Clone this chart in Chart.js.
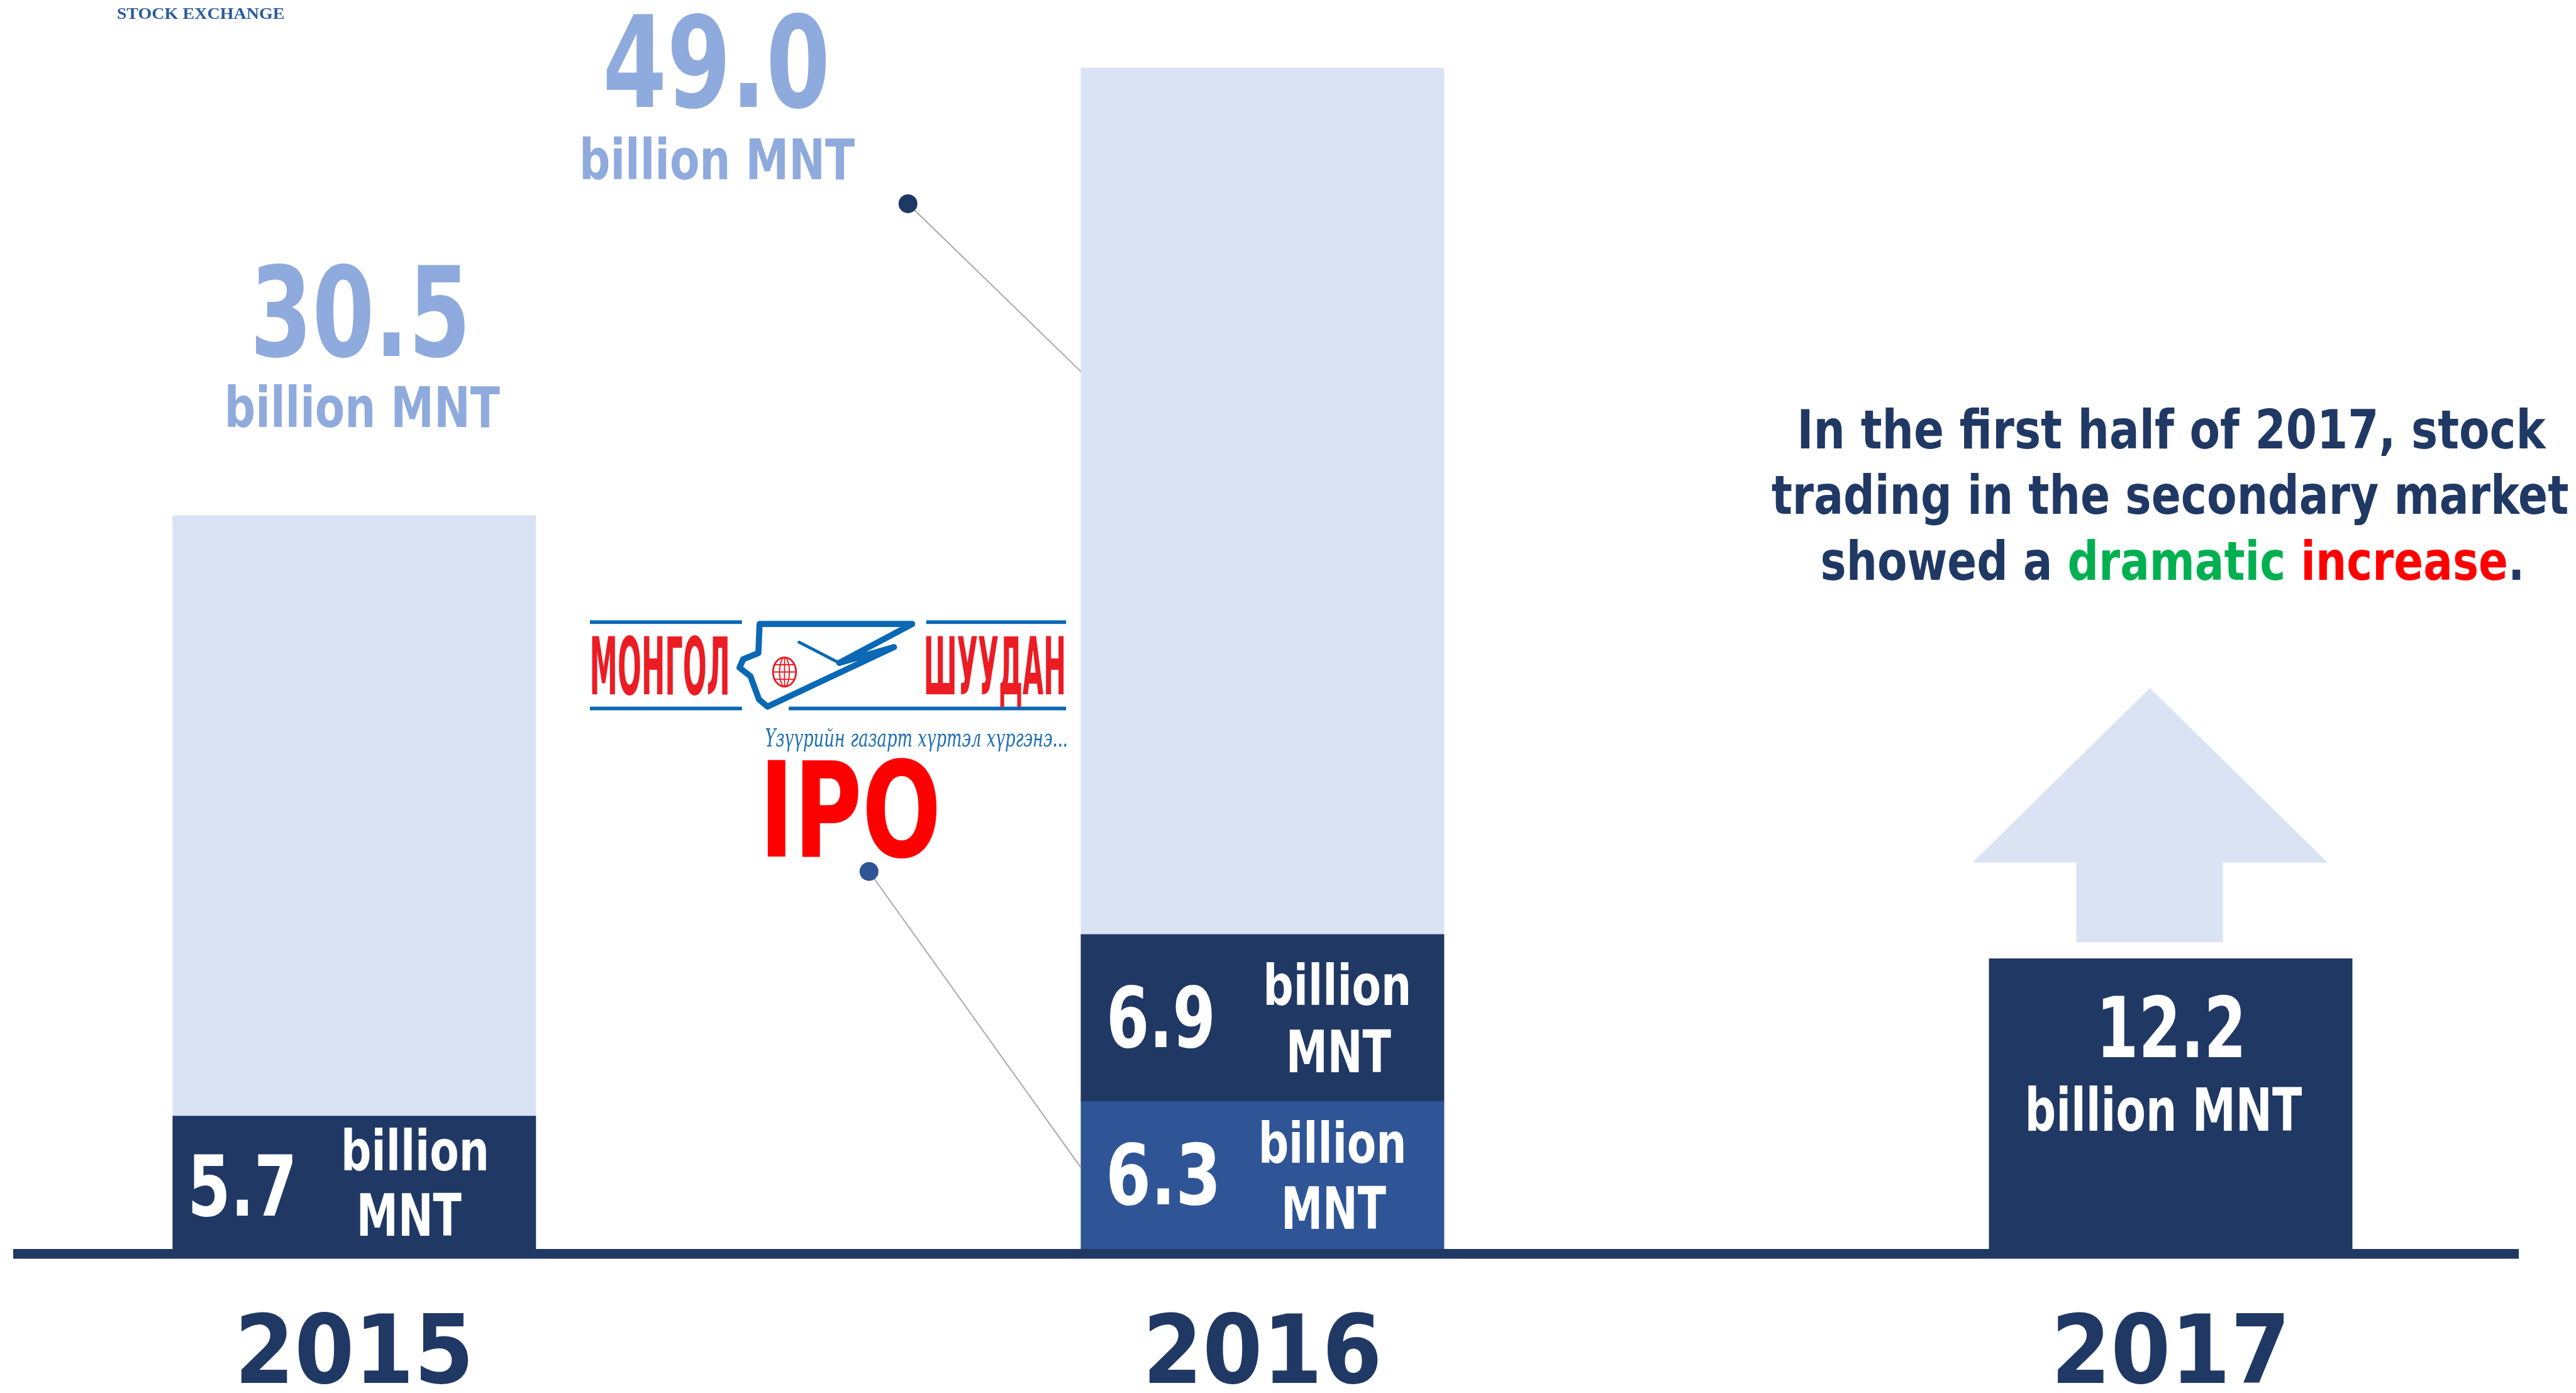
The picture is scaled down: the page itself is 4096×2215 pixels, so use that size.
<!DOCTYPE html>
<html>
<head>
<meta charset="utf-8">
<title>Stock trading 2015-2017</title>
<script src="https://cdn.jsdelivr.net/npm/chart.js@4.4.1/dist/chart.umd.min.js"></script>
<style>
  html, body { margin: 0; padding: 0; background: #fff; overflow: hidden; }
  #wrap { width: 4096px; height: 2215px; }
</style>
</head>
<body>
<div id="wrap"><canvas id="tradeChart" width="4096" height="2215"></canvas></div>
<script>
// --- DATA ---
const years = [2015, 2016, 2017];
const yearLabels = ['2015', '2016', '2017'];
const ipoValues = [null, 6.3, null];        // primary market (IPO)
const secondaryValues = [5.7, 6.9, 12.2];   // secondary market trading
const totalValues = [30.5, 49.0, null];     // total trading
const unitText = 'billion MNT';
const noteLines = [
    'In the first half of 2017, stock',
    'trading in the secondary market',
    'showed a dramatic increase.'
];

// rest of the total, drawn as the light part of the bar
const restValues = totalValues.map((t, i) =>
    t == null ? null : +(t - (ipoValues[i] || 0) - secondaryValues[i]).toFixed(1));

// --- STYLE ---
const S = 0.967;                 // reference -> window
const H = 2215;
const NAVY = '#203864';
const MID = '#2f5597';
const LIGHT = '#dae3f3';
const LIGHT_TEXT = '#8faadc';
const FONT = '"Liberation Sans Narrow", "DejaVu Sans Condensed", "Roboto Condensed", sans-serif';

// text helper: centred, squeezed to a given width (reference units)
function text(ctx, str, cx, base, size, color, width, family) {
    ctx.font = 'bold ' + size + 'px ' + (family || FONT);
    const w = ctx.measureText(str).width;
    const k = width ? width / w : 1;
    ctx.save();
    ctx.translate(cx, base);
    ctx.scale(k, 1);
    ctx.fillStyle = color;
    ctx.textAlign = 'center';
    ctx.textBaseline = 'alphabetic';
    ctx.fillText(str, 0, 0);
    ctx.restore();
}

// several coloured pieces on one line
function richLine(ctx, pieces, cx, base, size, width) {
    ctx.font = 'bold ' + size + 'px ' + FONT;
    const full = pieces.map(p => p[0]).join('');
    const w = ctx.measureText(full).width;
    const k = width / w;
    ctx.save();
    ctx.translate(cx - width / 2, base);
    ctx.scale(k, 1);
    ctx.textAlign = 'left';
    ctx.textBaseline = 'alphabetic';
    let x = 0;
    pieces.forEach(p => {
        ctx.fillStyle = p[1];
        ctx.fillText(p[0], x, 0);
        x += ctx.measureText(p[0]).width;
    });
    ctx.restore();
}

function dot(ctx, x, y, r, color) {
    ctx.beginPath();
    ctx.arc(x, y, r, 0, Math.PI * 2);
    ctx.fillStyle = color;
    ctx.fill();
}

function connector(ctx, x1, y1, x2, y2) {
    ctx.beginPath();
    ctx.moveTo(x1, y1);
    ctx.lineTo(x2, y2);
    ctx.strokeStyle = '#a6a6a6';
    ctx.lineWidth = 2;
    ctx.stroke();
}

// Mongol Shuudan logo (drawn, no image)
function drawLogo(ctx) {
    const blue = '#0a68b4';
    const red = '#ec1c24';
    ctx.fillStyle = blue;
    ctx.fillRect(970, 1020, 250, 6);
    ctx.fillRect(1523, 1020, 230, 6);
    ctx.fillRect(970, 1162, 250, 6);
    ctx.fillRect(1297, 1162, 456, 6);

    text(ctx, 'МОНГОЛ', 1085, 1142, 131, red, 231);
    text(ctx, 'ШУУДАН', 1636, 1142, 131, red, 234);

    ctx.save();
    ctx.strokeStyle = blue;
    ctx.lineWidth = 10;
    ctx.lineJoin = 'round';
    ctx.lineCap = 'round';
    ctx.beginPath();
    ctx.moveTo(1262, 1162);
    ctx.lineTo(1248, 1150);
    ctx.lineTo(1234, 1112);
    ctx.lineTo(1216, 1098);
    ctx.lineTo(1222, 1084);
    ctx.lineTo(1247, 1074);
    ctx.lineTo(1249, 1026);
    ctx.lineTo(1500, 1026);
    ctx.lineTo(1380, 1090);
    ctx.lineTo(1470, 1064);
    ctx.closePath();
    ctx.stroke();
    ctx.lineWidth = 5;
    ctx.beginPath();
    ctx.moveTo(1314, 1056);
    ctx.lineTo(1380, 1090);
    ctx.stroke();
    ctx.restore();

    // globe
    ctx.save();
    ctx.strokeStyle = red;
    ctx.lineWidth = 3;
    ctx.fillStyle = '#fff';
    ctx.beginPath();
    ctx.ellipse(1290, 1105, 19, 24, 0, 0, Math.PI * 2);
    ctx.fill();
    ctx.stroke();
    ctx.beginPath();
    ctx.ellipse(1290, 1105, 8, 24, 0, 0, Math.PI * 2);
    ctx.moveTo(1290, 1081); ctx.lineTo(1290, 1129);
    ctx.moveTo(1271, 1105); ctx.lineTo(1309, 1105);
    ctx.moveTo(1274, 1093); ctx.lineTo(1306, 1093);
    ctx.moveTo(1274, 1117); ctx.lineTo(1306, 1117);
    ctx.lineWidth = 2;
    ctx.stroke();
    ctx.restore();

    ctx.save();
    ctx.font = 'italic 40px "DejaVu Serif", serif';
    const tag = 'Үзүүрийн газарт хүртэл хүргэнэ...';
    const w = ctx.measureText(tag).width;
    ctx.translate(1258, 1228);
    ctx.scale(498 / w, 1);
    ctx.fillStyle = '#1c6db5';
    ctx.textAlign = 'left';
    ctx.fillText(tag, 0, 0);
    ctx.restore();
}

// --- ANNOTATIONS ---
const annotations = {
    id: 'annotations',
    afterDraw(chart) {
        const ctx = chart.ctx;
        const xs = chart.scales.x, ys = chart.scales.y;
        const X = v => xs.getPixelForValue(v) / S;
        const Y = v => ys.getPixelForValue(v) / S;
        const half = 597 / 2;

        ctx.save();
        ctx.scale(S, S);

        // top-left cut logo text
        text(ctx, 'STOCK EXCHANGE', 330, 31, 26, '#2a5b9c', 276, '"Liberation Serif", "DejaVu Serif", serif');

        // 2015
        let cx = X(years[0]);
        text(ctx, totalValues[0].toFixed(1), cx + 10, 585, 205, LIGHT_TEXT, 363);
        text(ctx, unitText, cx + 13, 702, 92, LIGHT_TEXT, 453);
        let m = Y(secondaryValues[0] / 2);
        text(ctx, secondaryValues[0].toFixed(1), cx - 184, m + 50, 139, '#fff', 180);
        text(ctx, 'billion', cx + 100, m - 24, 93, '#fff', 244);
        text(ctx, 'MNT', cx + 90, m + 84, 95, '#fff', 173);

        // 2016
        cx = X(years[1]);
        text(ctx, totalValues[1].toFixed(1), cx - 898, 176, 208, LIGHT_TEXT, 374);
        text(ctx, unitText, cx - 897, 295, 92, LIGHT_TEXT, 453);
        connector(ctx, 1493, 335, cx - half, 611);
        dot(ctx, 1493, 335, 15.5, NAVY);

        m = Y(ipoValues[1] / 2);
        text(ctx, ipoValues[1].toFixed(1), cx - 163, m + 44, 139, '#fff', 190);
        text(ctx, 'billion', cx + 115, m - 25, 93, '#fff', 244);
        text(ctx, 'MNT', cx + 117, m + 84, 95, '#fff', 173);

        m = Y(ipoValues[1] + secondaryValues[1] / 2);
        text(ctx, secondaryValues[1].toFixed(1), cx - 167, m + 48, 139, '#fff', 180);
        text(ctx, 'billion', cx + 123, m - 21, 93, '#fff', 244);
        text(ctx, 'MNT', cx + 125, m + 89, 95, '#fff', 173);

        // IPO
        drawLogo(ctx);
        text(ctx, 'IPO', 1398, 1408, 217, '#ff0000', 299);
        connector(ctx, 1429, 1433, cx - half, 1920);
        dot(ctx, 1429, 1433, 15.5, MID);

        // 2017
        cx = X(years[2]);
        const top = Y(secondaryValues[2]);
        text(ctx, secondaryValues[2].toFixed(1), cx + 1, top + 162, 138, '#fff', 247);
        text(ctx, unitText, cx - 12, top + 283, 97, '#fff', 456);

        // up arrow
        const ax = cx - 34;
        ctx.beginPath();
        ctx.moveTo(ax, top - 445);
        ctx.lineTo(ax + 292, top - 158);
        ctx.lineTo(ax + 120, top - 158);
        ctx.lineTo(ax + 120, top - 27);
        ctx.lineTo(ax - 121, top - 27);
        ctx.lineTo(ax - 121, top - 158);
        ctx.lineTo(ax - 292, top - 158);
        ctx.closePath();
        ctx.fillStyle = LIGHT;
        ctx.fill();

        // note
        text(ctx, noteLines[0], cx + 1, 737, 89, NAVY, 1231);
        text(ctx, noteLines[1], cx - 1, 845, 89, NAVY, 1311);
        richLine(ctx, [['showed a ', NAVY], ['dramatic', '#00b050'], [' ', NAVY],
                       ['increase', '#ff0000'], ['.', NAVY]], cx + 3, 953, 89, 1158);

        ctx.restore();
    }
};

// --- CHART ---
const barStyle = { barThickness: 597 * S, borderWidth: 0 };
const toPoints = arr => arr.map((v, i) => ({ x: years[i], y: v }));

new Chart(document.getElementById('tradeChart'), {
    type: 'bar',
    data: {
        datasets: [
            Object.assign({ label: 'IPO', data: toPoints(ipoValues), backgroundColor: MID }, barStyle),
            Object.assign({ label: 'Secondary market', data: toPoints(secondaryValues), backgroundColor: NAVY }, barStyle),
            Object.assign({ label: 'Total', data: toPoints(restValues), backgroundColor: LIGHT }, barStyle)
        ]
    },
    options: {
        responsive: false,
        animation: false,
        layout: { padding: { left: 29, right: 92, top: 0, bottom: 0 } },
        plugins: { legend: { display: false }, tooltip: { enabled: false } },
        scales: {
            x: {
                type: 'linear',
                stacked: true,
                offset: false,
                min: 2014.6300,
                max: 2017.3826,
                grid: { display: false, drawTicks: false },
                border: { display: true, color: NAVY, width: 16 * S, z: 1 },
                afterBuildTicks: scale => { scale.ticks = years.map(v => ({ value: v })); },
                afterFit: scale => { scale.height = H - 2062 * S; },
                ticks: {
                    padding: 90,
                    color: NAVY,
                    font: { family: FONT, size: 152, weight: 'bold', lineHeight: 1 },
                    callback: (v) => yearLabels[years.indexOf(v)]
                }
            },
            y: {
                stacked: true,
                display: false,
                min: 0,
                max: 51.8
            }
        }
    },
    plugins: [annotations]
});
</script>
</body>
</html>
